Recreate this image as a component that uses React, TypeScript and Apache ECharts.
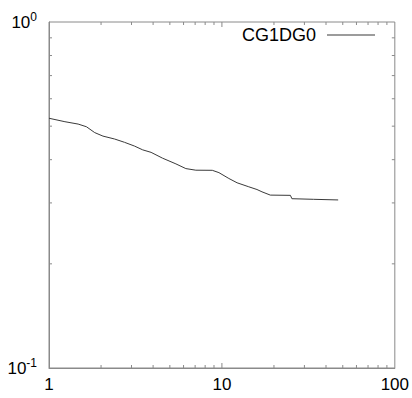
import React, { useEffect, useRef } from "react";
import * as echarts from "echarts";

const seriesName = "CG1DG0";
const xValues = [1, 1.236, 1.474, 1.647, 1.838, 2.051, 2.395, 2.734, 3.121, 3.483, 3.893, 4.539, 5.42, 6.185, 7.063, 8.796, 9.612, 10.97, 12.24, 14.3, 15.95, 17.05, 19.05, 24.9, 25.4, 33.79, 47.03];
const yValues = [0.527, 0.515, 0.507, 0.498, 0.479, 0.468, 0.459, 0.449, 0.438, 0.427, 0.42, 0.404, 0.389, 0.377, 0.373, 0.3727, 0.367, 0.353, 0.343, 0.334, 0.328, 0.323, 0.316, 0.3155, 0.3085, 0.3073, 0.306];
const xMinorTicks = [2, 3, 4, 5, 6, 7, 8, 9, 20, 30, 40, 50, 60, 70, 80, 90];
const xMajorTicks = [10];
const yMinorTicks = [0.2, 0.3, 0.4, 0.5, 0.6, 0.7, 0.8, 0.9];

const FRAME = "#8a8a8a";

export default function App() {
  const ref = useRef<HTMLDivElement>(null);
  useEffect(() => {
    if (!ref.current) return;
    const chart = echarts.init(ref.current, null, { renderer: "svg" });
    const xTickData = [
      ...xMinorTicks.map((v) => [v, 0.5, 3]),
      ...xMajorTicks.map((v) => [v, 0.5, 5]),
    ];
    const yTickData = yMinorTicks.map((v) => [2, v, 3]);
    const tickStyle = { stroke: FRAME, lineWidth: 1 };
    chart.setOption({
      animation: false,
      grid: {
        left: 49,
        top: 22,
        width: 348,
        height: 346,
        show: true,
        borderColor: FRAME,
        borderWidth: 1,
        backgroundColor: "transparent",
      },
      legend: {
        data: [seriesName],
        right: 32,
        top: 21,
        align: "right",
        icon: "rect",
        itemWidth: 48,
        itemHeight: 1,
        textStyle: {
          fontFamily: "Liberation Sans",
          fontSize: 18,
          color: "#000",
          padding: [0, 6, 0, 0],
        },
      },
      xAxis: {
        type: "log",
        logBase: 10,
        min: 1,
        max: 100,
        axisLine: { show: true, lineStyle: { color: FRAME } },
        axisTick: { show: false },
        splitLine: { show: false },
        minorTick: { show: false },
        axisLabel: {
          margin: 8,
          fontFamily: "Liberation Sans",
          fontSize: 17,
          color: "#000",
          formatter: (v: number) => String(Math.round(v)),
        },
      },
      yAxis: {
        type: "log",
        logBase: 10,
        min: 0.1,
        max: 1,
        axisLine: { show: true, lineStyle: { color: FRAME } },
        axisTick: { show: false },
        splitLine: { show: false },
        axisLabel: {
          margin: 12,
          fontFamily: "Liberation Sans",
          color: "#000",
          formatter: (v: number) =>
            "{b|10}{s|" + Math.round(Math.log10(v)) + "}",
          rich: {
            b: { fontSize: 17, fontFamily: "Liberation Sans", color: "#000" },
            s: {
              fontSize: 12,
              fontFamily: "Liberation Sans",
              color: "#000",
              padding: [0, 0, 10, 0],
            },
          },
        },
      },
      series: [
        {
          name: seriesName,
          type: "line",
          data: xValues.map((x, i) => [x, yValues[i]]),
          showSymbol: false,
          symbol: "none",
          color: "#3a3a3a",
          lineStyle: { color: "#3a3a3a", width: 1 },
        },
        {
          type: "custom",
          data: xTickData,
          silent: true,
          renderItem: (_p: any, api: any) => {
            const v = api.value(0);
            const len = api.value(2);
            const b = api.coord([v, 0.1]);
            const t = api.coord([v, 1]);
            return {
              type: "group",
              children: [
                { type: "line", shape: { x1: b[0], y1: b[1], x2: b[0], y2: b[1] - len }, style: tickStyle },
                { type: "line", shape: { x1: t[0], y1: t[1], x2: t[0], y2: t[1] + len }, style: tickStyle },
              ],
            };
          },
        },
        {
          type: "custom",
          data: yTickData,
          silent: true,
          renderItem: (_p: any, api: any) => {
            const v = api.value(1);
            const len = api.value(2);
            const l = api.coord([1, v]);
            const r = api.coord([100, v]);
            return {
              type: "group",
              children: [
                { type: "line", shape: { x1: l[0], y1: l[1], x2: l[0] + len, y2: l[1] }, style: tickStyle },
                { type: "line", shape: { x1: r[0], y1: r[1], x2: r[0] - len, y2: r[1] }, style: tickStyle },
              ],
            };
          },
        },
      ],
    });
    return () => chart.dispose();
  }, []);
  return (
    <div
      ref={ref}
      style={{ position: "fixed", left: 0, top: 0, width: 412, height: 398, background: "#fff" }}
    />
  );
}
